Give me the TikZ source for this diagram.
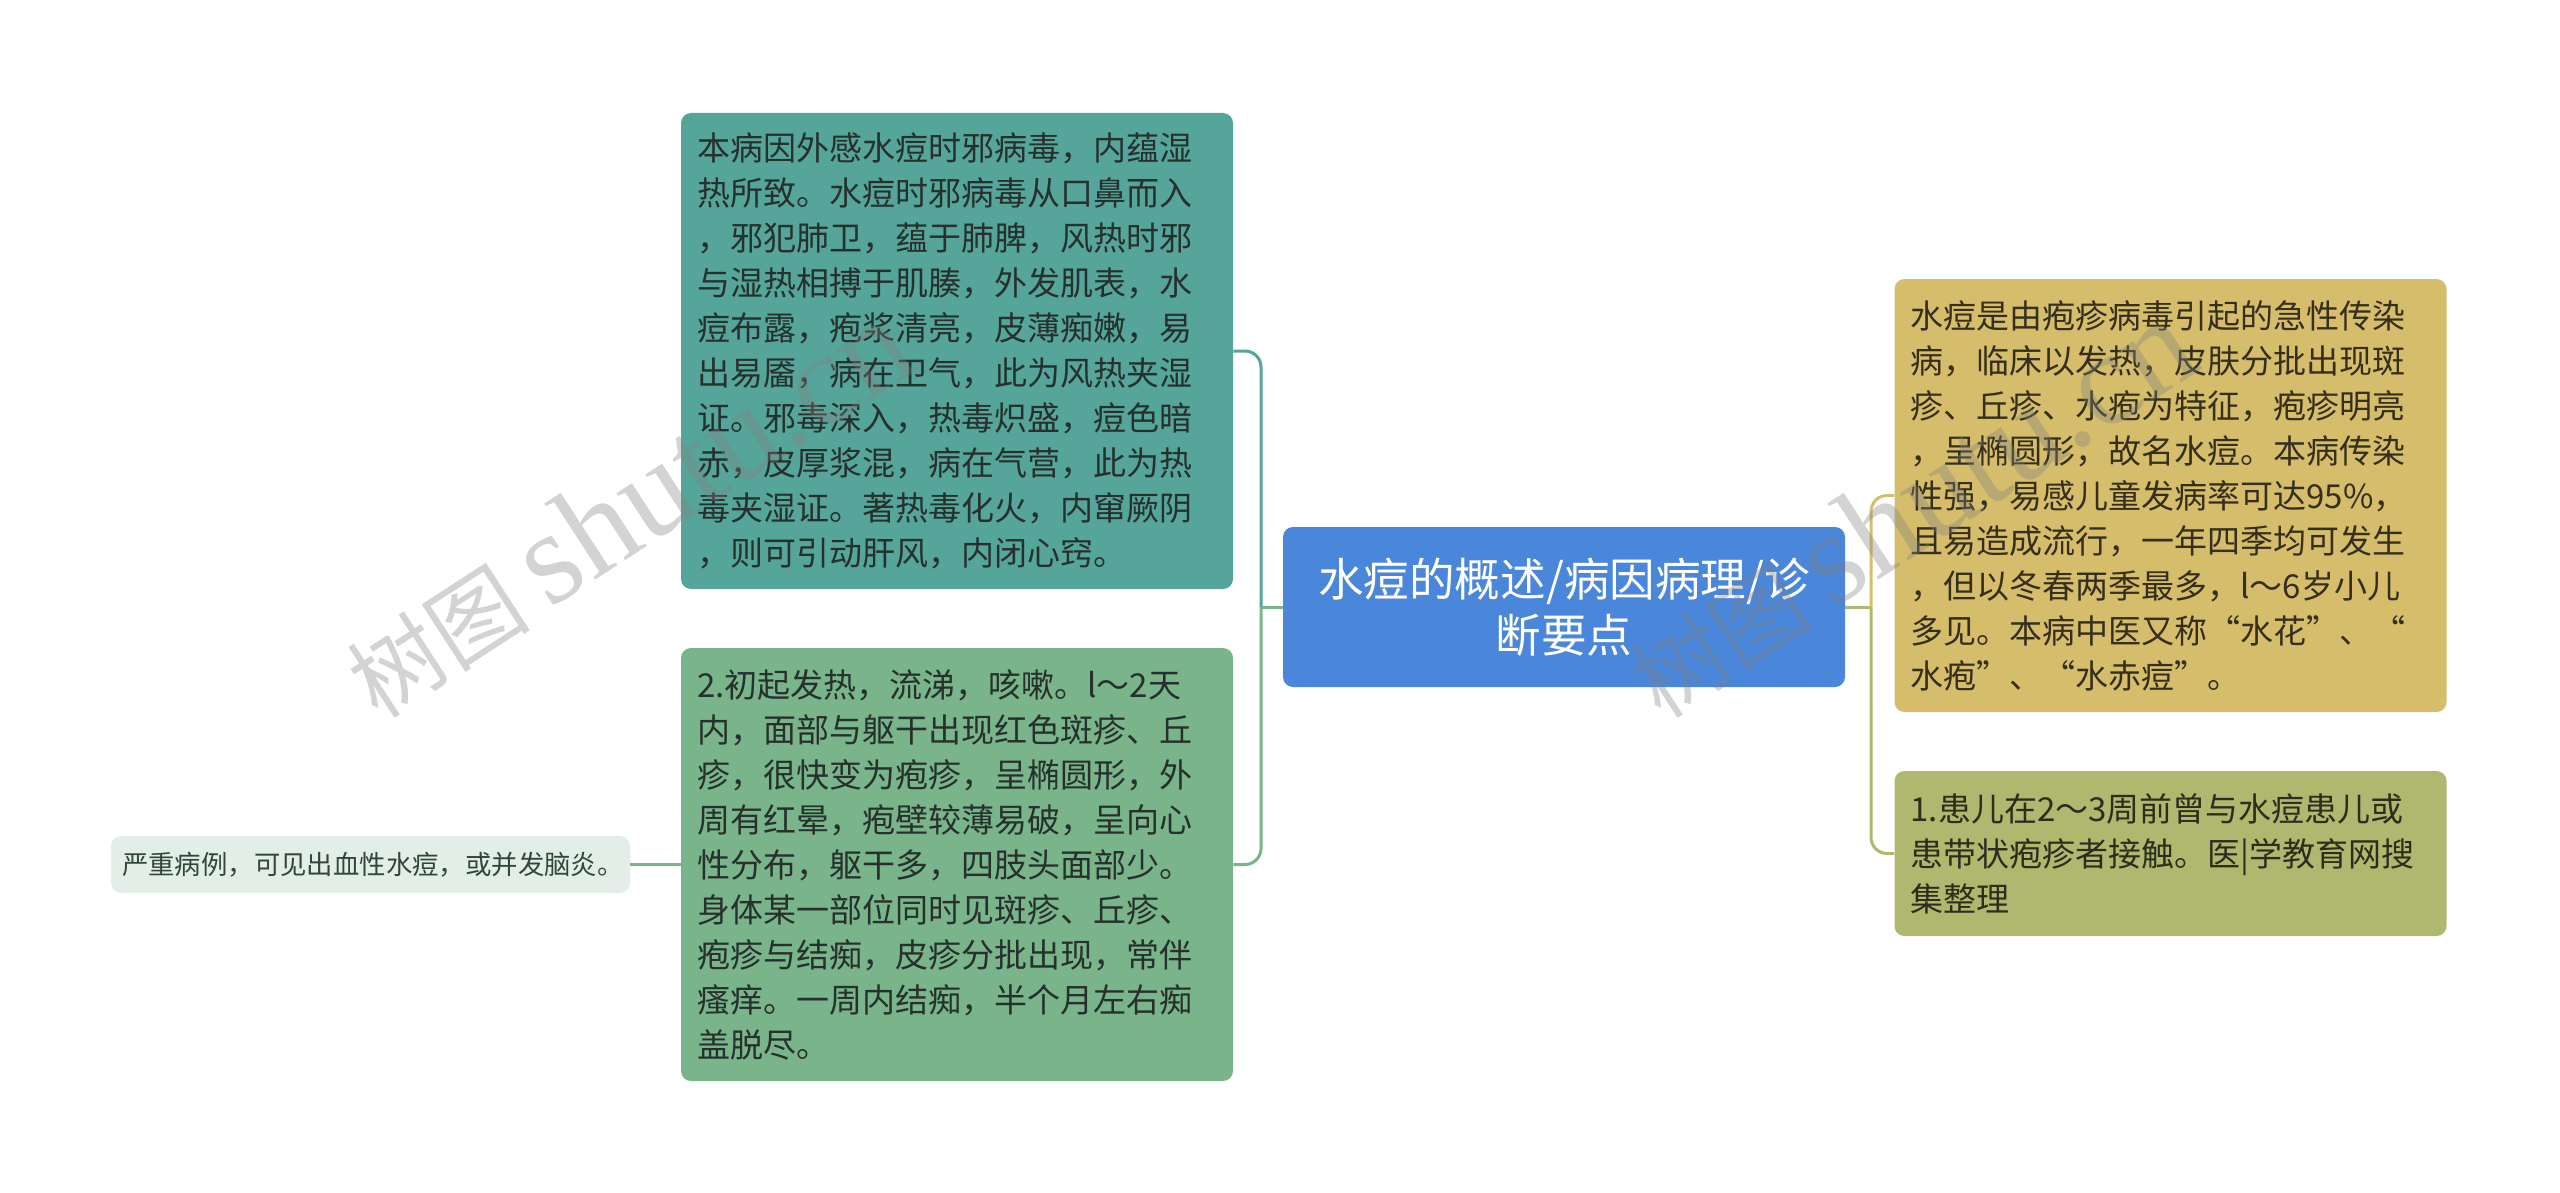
\documentclass[tikz,border=0pt]{standalone}
\usepackage{fontspec}
\setmainfont{Noto Sans CJK SC}
\newfontfamily\wmlatin{Liberation Serif}
\usetikzlibrary{positioning}

\definecolor{rootblue}{HTML}{4A86DA}
\definecolor{tealbox}{HTML}{55A59B}
\definecolor{greenbox}{HTML}{7AB48B}
\definecolor{palebox}{HTML}{E3EEE9}
\definecolor{goldbox}{HTML}{D5BD6B}
\definecolor{olivebox}{HTML}{B0B86F}
\definecolor{darktext}{HTML}{26302C}

\tikzset{
  topic/.style={rounded corners=5pt, align=left, inner xsep=8pt, inner ysep=2pt,
    text width=260pt, text=darktext, font=\fontsize{16.5pt}{22.5pt}\selectfont},
  link/.style={line width=1.5pt, rounded corners=8pt},
  watermark/.style={inner sep=0pt, anchor=base west, rotate=33, text=gray, opacity=0.35,
    font=\fontsize{46pt}{46pt}\selectfont}
}

\begin{document}
\begin{tikzpicture}[x=0.5pt, y=-0.5pt]
    \useasboundingbox (0,0) rectangle (2560,1193);

    % Root
    \node [rounded corners=5pt, fill=rootblue, text=white, align=center,
           minimum width=281pt, minimum height=80pt, inner sep=0pt,
           font=\fontsize{22.8pt}{28pt}\selectfont] (root) at (1564,607)
          {水痘的概述/病因病理/诊\\断要点};

    % Left side
    \node [topic, fill=tealbox, minimum height=238pt] (cause) at (957,351)
          {本病因外感水痘时邪病毒，内蕴湿\\
           热所致。水痘时邪病毒从口鼻而入\\
           ，邪犯肺卫，蕴于肺脾，风热时邪\\
           与湿热相搏于肌腠，外发肌表，水\\
           痘布露，疱浆清亮，皮薄痴嫩，易\\
           出易靥，病在卫气，此为风热夹湿\\
           证。邪毒深入，热毒炽盛，痘色暗\\
           赤，皮厚浆混，病在气营，此为热\\
           毒夹湿证。著热毒化火，内窜厥阴\\
           ，则可引动肝风，内闭心窍。};
    \node [topic, fill=greenbox, minimum height=216.5pt] (sign) at (957,864.5)
          {2.初起发热，流涕，咳嗽。l～2天\\
           内，面部与躯干出现红色斑疹、丘\\
           疹，很快变为疱疹，呈椭圆形，外\\
           周有红晕，疱壁较薄易破，呈向心\\
           性分布，躯干多，四肢头面部少。\\
           身体某一部位同时见斑疹、丘疹、\\
           疱疹与结痴，皮疹分批出现，常伴\\
           瘙痒。一周内结痴，半个月左右痴\\
           盖脱尽。};
    \node [topic, fill=palebox, text=greenbox!40!black, text width=248.5pt,
           inner xsep=5.5pt, minimum height=28.5pt,
           font=\fontsize{13.2pt}{15pt}\selectfont] (severe) at (370.5,864.5)
          {严重病例，可见出血性水痘，或并发脑炎。};

    % Right side
    \node [topic, fill=goldbox, text=goldbox!25!black, minimum height=216.5pt] (intro) at (2170.5,495.5)
          {水痘是由疱疹病毒引起的急性传染\\
           病，临床以发热，皮肤分批出现斑\\
           疹、丘疹、水疱为特征，疱疹明亮\\
           ，呈椭圆形，故名水痘。本病传染\\
           性强，易感儿童发病率可达95\%，\\
           且易造成流行，一年四季均可发生\\
           ，但以冬春两季最多，l～6岁小儿\\
           多见。本病中医又称“水花”、“\\
           水疱”、“水赤痘”。};
    \node [topic, fill=olivebox, text=olivebox!25!black, minimum height=82.5pt] (contact) at (2170.5,853.5)
          {1.患儿在2～3周前曾与水痘患儿或\\
           患带状疱疹者接触。医|学教育网搜\\
           集整理};

    % Connectors
    \coordinate (jl) at (1261,607);
    \coordinate (jr) at (1871,607);
    \draw [link, greenbox] (root.west) -- (jl);
    \draw [link, tealbox] (jl) |- (cause.east);
    \draw [link, greenbox] (jl) |- (sign.east);
    \draw [link, greenbox] (sign.west) -- (severe.east);
    \draw [link, olivebox] (root.east) -- (jr);
    \draw [link, goldbox] (jr) |- (intro.west);
    \draw [link, olivebox] (jr) |- (contact.west);

    % Watermarks
    \node [watermark] (wmleft) at (378,721) {树图 {\wmlatin\fontsize{66pt}{66pt}\selectfont shutu.cn}};
    \node [watermark] (wmright) at (1661,721) {树图 {\wmlatin\fontsize{66pt}{66pt}\selectfont shutu.cn}};
\end{tikzpicture}
\end{document}
